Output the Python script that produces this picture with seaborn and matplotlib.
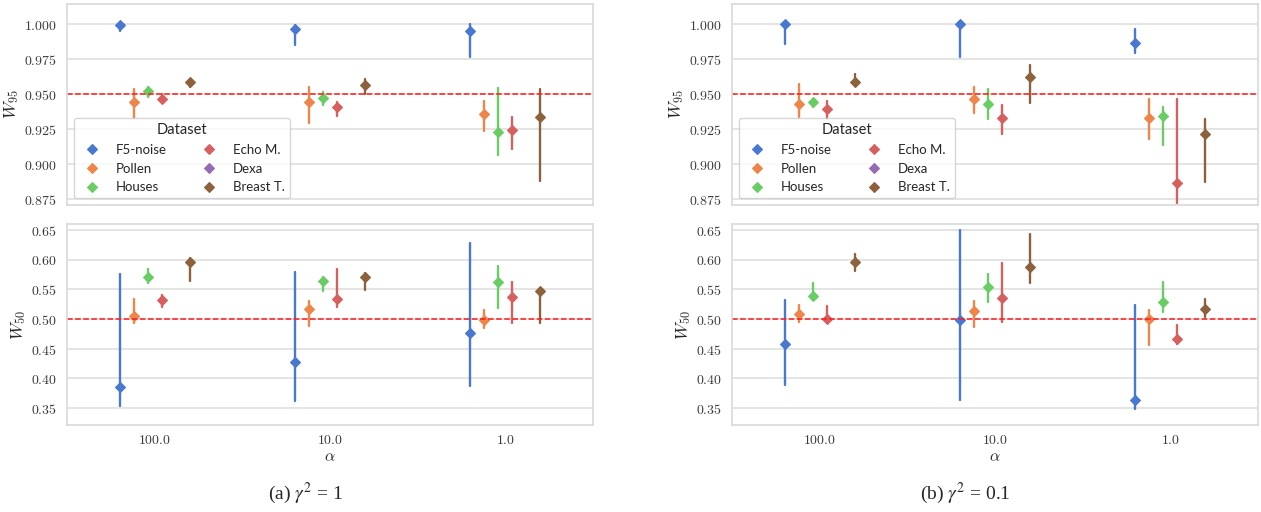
import numpy as np
import pandas as pd
import matplotlib
matplotlib.use("Agg")
import matplotlib.pyplot as plt
from matplotlib.ticker import FuncFormatter, MultipleLocator
import seaborn as sns

# Category and series names
ALPHAS = ["100.0", "10.0", "1.0"]
DATASETS = ["F5-noise", "Pollen", "Houses", "Echo M.", "Dexa", "Breast T."]
PLOTTED = ["F5-noise", "Pollen", "Houses", "Echo M.", "Breast T."]

# gamma^2 = 1 : W95 coverage (point, lower, upper), rows follow PLOTTED, columns follow ALPHAS
A_W95_MID = [[0.9993, 0.9969, 0.9955], [0.9448, 0.9443, 0.9360], [0.9526, 0.9474, 0.9231],
             [0.9464, 0.9407, 0.9243], [0.9586, 0.9564, 0.9336]]
A_W95_LO = [[0.9952, 0.9852, 0.9769], [0.9335, 0.9298, 0.9238], [0.9479, 0.9426, 0.9067],
            [0.9436, 0.9345, 0.9112], [0.9555, 0.9500, 0.8883]]
A_W95_HI = [[1.0000, 0.9995, 1.0000], [0.9536, 0.9550, 0.9452], [0.9550, 0.9519, 0.9543],
            [0.9502, 0.9448, 0.9340], [0.9610, 0.9607, 0.9536]]

# gamma^2 = 1 : W50 coverage
A_W50_MID = [[0.3854, 0.4277, 0.4766], [0.5048, 0.5160, 0.4980], [0.5701, 0.5633, 0.5622],
             [0.5318, 0.5335, 0.5369], [0.5960, 0.5712, 0.5470]]
A_W50_LO = [[0.3539, 0.3624, 0.3871], [0.4924, 0.4879, 0.4851], [0.5599, 0.5476, 0.5177],
            [0.5194, 0.5205, 0.4935], [0.5644, 0.5492, 0.4935]]
A_W50_HI = [[0.5757, 0.5796, 0.6286], [0.5340, 0.5307, 0.5149], [0.5836, 0.5712, 0.5892],
            [0.5397, 0.5847, 0.5622], [0.6022, 0.5780, 0.5515]]

# gamma^2 = 0.1 : W95 coverage
B_W95_MID = [[1.0000, 1.0000, 0.9867], [0.9429, 0.9467, 0.9331], [0.9445, 0.9429, 0.9348],
             [0.9395, 0.9329, 0.8867], [0.9590, 0.9624, 0.9214]]
B_W95_LO = [[0.9857, 0.9769, 0.9795], [0.9340, 0.9364, 0.9179], [0.9407, 0.9321, 0.9140],
            [0.9321, 0.9217, 0.8724], [0.9560, 0.9436, 0.8876]]
B_W95_HI = [[1.0000, 1.0000, 0.9969], [0.9574, 0.9550, 0.9469], [0.9469, 0.9536, 0.9412],
            [0.9455, 0.9421, 0.9469], [0.9645, 0.9707, 0.9324]]

# gamma^2 = 0.1 : W50 coverage
B_W50_MID = [[0.4575, 0.4980, 0.3640], [0.5076, 0.5126, 0.5000], [0.5391, 0.5532, 0.5290],
             [0.5000, 0.5352, 0.4659], [0.5954, 0.5881, 0.5160]]
B_W50_LO = [[0.3882, 0.3640, 0.3483], [0.4941, 0.4862, 0.4558], [0.5318, 0.5278, 0.5121],
            [0.4941, 0.4952, 0.4575], [0.5813, 0.5611, 0.5025]]
B_W50_HI = [[0.5312, 0.6500, 0.5239], [0.5233, 0.5301, 0.5149], [0.5599, 0.5757, 0.5622],
            [0.5225, 0.5948, 0.4890], [0.6095, 0.6432, 0.5340]]

NOMINAL_95 = 0.95
NOMINAL_50 = 0.50
CAPTIONS = [r"(a) $\gamma^2$ = 1", r"(b) $\gamma^2$ = 0.1"]


def long_frame(mid, lo, hi):
    """Three rows (lower, point, upper) per dataset and alpha; the median gives the point
    and the min/max give the interval."""
    rows = []
    for name, m_row, l_row, h_row in zip(PLOTTED, mid, lo, hi):
        for a, m, l, h in zip(ALPHAS, m_row, l_row, h_row):
            for v in (l, m, h):
                rows.append({"alpha": a, "Dataset": name, "value": v})
    return pd.DataFrame(rows)


sns.set_theme(style="whitegrid", palette="muted", context="notebook")
plt.rcParams.update({
    "mathtext.fontset": "cm",
    "font.family": ["Lato", "DejaVu Sans"],
    "xtick.major.size": 0, "ytick.major.size": 0,
    "xtick.major.pad": 6, "ytick.major.pad": 7,
    "axes.edgecolor": "#d9d9d9", "grid.color": "#dcdcdc",
    "axes.linewidth": 1.2, "grid.linewidth": 1.1,
})

fig = plt.figure(figsize=(12.61, 5.12), dpi=100)
W, H = 1261, 512

panels = [
    (67, (A_W95_MID, A_W95_LO, A_W95_HI), (A_W50_MID, A_W50_LO, A_W50_HI), 305, CAPTIONS[0]),
    (732, (B_W95_MID, B_W95_LO, B_W95_HI), (B_W50_MID, B_W50_LO, B_W50_HI), 965, CAPTIONS[1]),
]

math_fmt3 = FuncFormatter(lambda v, p: f"${v:.3f}$")
math_fmt2 = FuncFormatter(lambda v, p: f"${v:.2f}$")
palette = sns.color_palette("muted", len(DATASETS))


def draw(ax, frame):
    sns.pointplot(
        data=frame, x="alpha", y="value", hue="Dataset",
        order=ALPHAS, hue_order=DATASETS, palette=palette,
        estimator="median", errorbar=lambda v: (v.min(), v.max()),
        dodge=0.4, markers="D", linestyles="none",
        markersize=5.2, markeredgewidth=0.8,
        err_kws={"linewidth": 1.7}, ax=ax, legend=True,
    )


for (x0, top_vals, bot_vals, cap_x, caption) in panels:
    ax_top = fig.add_axes([x0 / W, 1 - 205 / H, 526 / W, 201 / H])
    ax_bot = fig.add_axes([x0 / W, 1 - 425 / H, 526 / W, 201 / H], sharex=ax_top)

    draw(ax_top, long_frame(*top_vals))
    draw(ax_bot, long_frame(*bot_vals))

    ax_top.axhline(NOMINAL_95, color="#ff1a1a", ls="--", lw=1.1)
    ax_bot.axhline(NOMINAL_50, color="#ff1a1a", ls="--", lw=1.1)

    ax_top.set_ylim(0.871, 1.0146)
    ax_bot.set_ylim(0.3213, 0.660)
    ax_top.yaxis.set_major_locator(MultipleLocator(0.025))
    ax_bot.yaxis.set_major_locator(MultipleLocator(0.05))
    ax_top.yaxis.set_major_formatter(math_fmt3)
    ax_bot.yaxis.set_major_formatter(math_fmt2)

    ax_top.set_ylabel(r"$W_{95}$", fontsize=12.5, labelpad=2)
    ax_bot.set_ylabel(r"$W_{50}$", fontsize=12.5, labelpad=2)
    ax_top.set_xlabel("")
    ax_bot.set_xlabel(r"$\alpha$", fontsize=11.5, labelpad=3)
    ax_top.tick_params(axis="x", labelbottom=False)
    ax_bot.set_xticks(range(len(ALPHAS)), labels=[f"${a}$" for a in ALPHAS])
    for ax in (ax_top, ax_bot):
        ax.tick_params(axis="both", labelsize=10, labelcolor="#3a3a3a")
        ax.grid(False, axis="x")

    handles, labels = ax_top.get_legend_handles_labels()
    ax_top.legend(handles, labels, title="Dataset", ncol=2, loc="lower left",
                  fontsize=9.5, title_fontsize=10.5, columnspacing=2.2,
                  handletextpad=0.8, borderaxespad=0.5)
    if ax_bot.get_legend() is not None:
        ax_bot.get_legend().remove()

    fig.text(cap_x / W, 1 - 493 / H, caption,
             ha="center", va="center", fontsize=14,
             family="Liberation Serif", math_fontfamily="stix")

fig.savefig("out.png", dpi=100)
